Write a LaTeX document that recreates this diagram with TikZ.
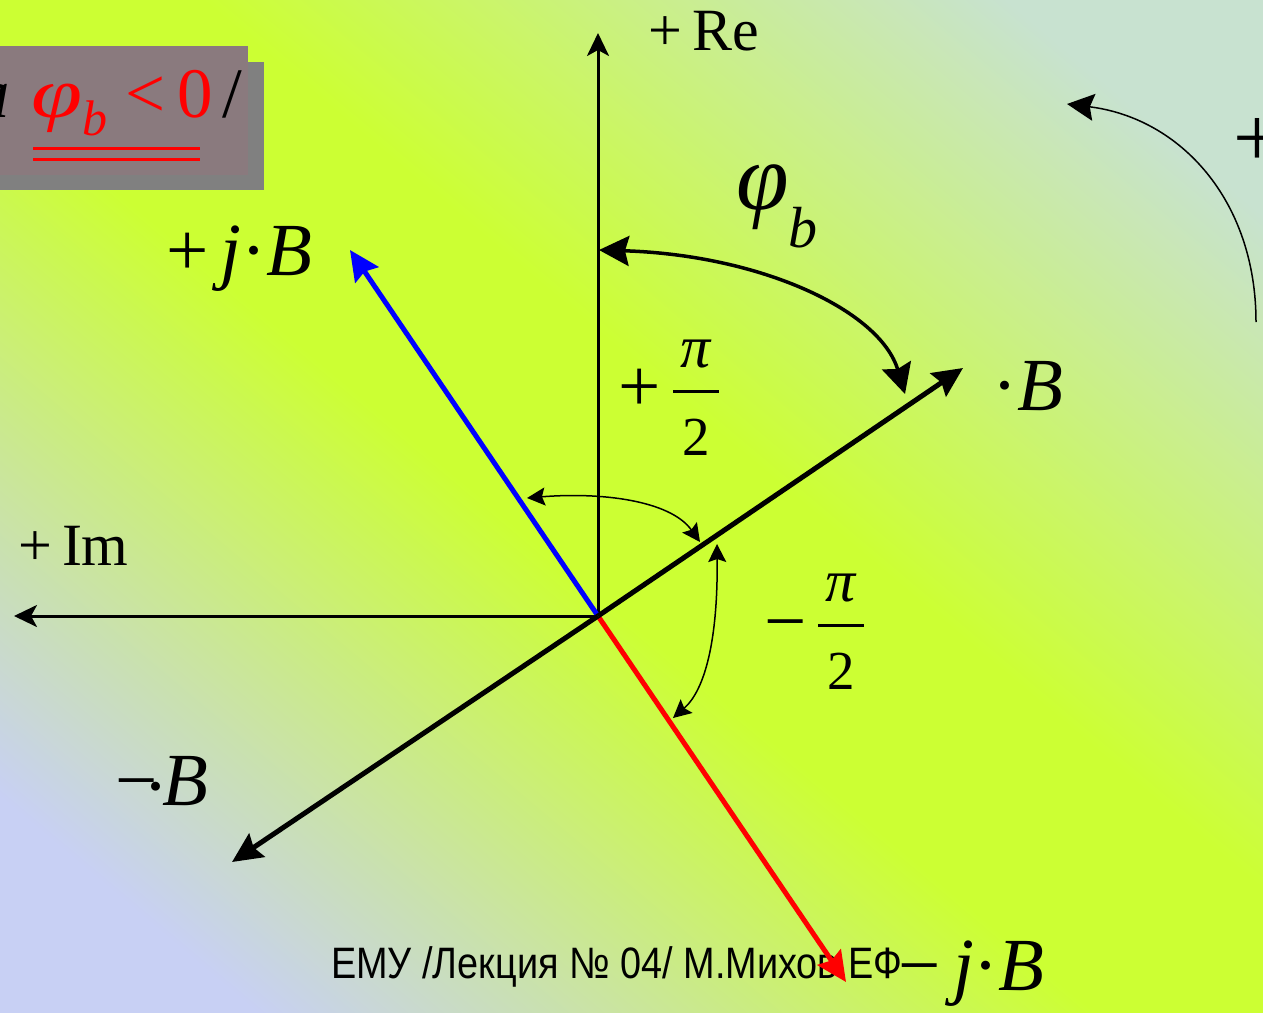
\documentclass[tikz,border=0pt]{standalone}
\usepackage{fontspec}
\setmainfont{Liberation Serif}
\newfontfamily\footfont{Liberation Sans}[FakeStretch=0.86]
\usetikzlibrary{arrows.meta}
\definecolor{bgmid}{HTML}{CCFF33}
\definecolor{bgtop}{HTML}{C8E2D0}
\definecolor{bgbot}{HTML}{C8D0F4}
\definecolor{boxback}{HTML}{808080}
\definecolor{boxfront}{HTML}{8A7A7E}
\pgfdeclareverticalshading{bgshade}{100bp}{color(0bp)=(bgbot); color(22bp)=(bgbot); color(46bp)=(bgmid); color(55bp)=(bgmid); color(78bp)=(bgtop); color(100bp)=(bgtop)}
\newcommand{\pifrac}{$\displaystyle{\mbox{\hspace{7pt}{\fontsize{60}{60}\selectfont\textit{π}}\hspace{7pt}\rule[-13pt]{0pt}{13pt}}\above 3pt\mbox{\rule{0pt}{54pt}2}}$}
\tikzset{
  lbl/.style={inner sep=0pt, anchor=base west},
  axisline/.style={line width=3pt, -{Stealth[length=23pt,width=22pt,inset=6pt]}},
  vecline/.style={line width=5pt, -{Stealth[length=30pt,width=28pt,inset=4pt]}},
  bigarc/.style={line width=3.5pt, {Stealth[length=30pt,width=30pt,inset=4pt]}-{Stealth[length=30pt,width=30pt,inset=4pt]}},
  smallarc/.style={line width=1.5pt, {Stealth[length=18pt,width=18pt,inset=3pt]}-{Stealth[length=18pt,width=18pt,inset=3pt]}},
  rotarc/.style={line width=1.5pt, -{Stealth[length=27pt,width=27pt,inset=4pt]}},
}
\begin{document}
\begin{tikzpicture}[x=1pt,y=-1pt]
\useasboundingbox (0,0) rectangle (1263,1012);
\clip (0,0) rectangle (1263,1012);
\shade[shading=bgshade, shading angle=-40] (0,0) rectangle (1263,1012);

% title box
\fill[boxback] (0,62) rectangle (264,190);
\fill[boxfront] (0,46) rectangle (248,175);
\node[inner sep=0pt, anchor=base east, font=\fontsize{71}{71}\selectfont] (ta) at (10,117) {\textit{a}};
\node[lbl, font=\fontsize{71}{71}\selectfont] (title) at (31,117)
  {{\color{red}\scalebox{1.3}[1]{\textit{φ}}\raisebox{-18pt}{\fontsize{50}{50}\selectfont\textit{b}}\hspace{18pt}<\hspace{12pt}0}\hspace{10pt}/};
\draw[red, line width=3pt] (33,148) -- (200,148);
\draw[red, line width=3pt] (33,159) -- (200,159);

% coordinates
\coordinate (O) at (598,616);
\coordinate (ReEnd) at (598,33);
\coordinate (ImEnd) at (14,616);
\coordinate (BEnd) at (963,368);
\coordinate (mBEnd) at (232,862);
\coordinate (jBEnd) at (350,250);
\coordinate (mjBEnd) at (846,982);

% footer
\node[lbl, font=\footfont\fontsize{44}{44}\selectfont] (foot) at (331,978) {ЕМУ /Лекция № 04/ М.Михов ЕФ};

% axes
\draw[axisline] (O) -- (ReEnd);
\draw[axisline] (O) -- (ImEnd);

% vectors
\draw[vecline, blue] (O) -- (jBEnd);
\draw[vecline, red] (O) -- (mjBEnd);
\draw[vecline] (O) -- (BEnd);
\draw[vecline] (O) -- (mBEnd);

% arcs
\coordinate (phiA) at (599,250);
\coordinate (phiB) at (905,394);
\draw[bigarc] (phiA) .. controls (760,255) and (880,310) .. (phiB);
\coordinate (pA) at (527,498);
\coordinate (pB) at (700,542);
\draw[smallarc] (pA) .. controls (600,492) and (670,500) .. (pB);
\coordinate (mA) at (717,544);
\coordinate (mB) at (673,718);
\draw[smallarc] (mA) .. controls (718,640) and (705,690) .. (mB);
\coordinate (rA) at (1256,322);
\coordinate (rB) at (1067,104);
\draw[rotarc] (rA) .. controls (1256,200) and (1180,118) .. (rB);

% labels
\node[lbl, font=\fontsize{60}{60}\selectfont] (re) at (648,50) {+\,Re};
\node[lbl, font=\fontsize{60}{60}\selectfont] (im) at (18,565) {+\,Im};
\node[lbl, font=\fontsize{75}{75}\selectfont] (jb) at (166,275) {+\,\textit{j}·\textit{B}};
\node[lbl, font=\fontsize{75}{75}\selectfont] (b) at (992,410) {·\textit{B}};
\node[lbl, font=\fontsize{75}{75}\selectfont] (mb) at (115,805) {−\kern-14pt\raisebox{-6pt}{·}\kern-6pt\textit{B}};
\node[lbl, font=\fontsize{75}{75}\selectfont] (mjb) at (898,990) {−\,\textit{j}·\textit{B}};
\node[lbl, font=\fontsize{95}{95}\selectfont] (phib) at (736,209) {\textit{φ}\raisebox{-38pt}{\fontsize{58}{58}\selectfont\textit{b}}};
\node[inner sep=0pt, font=\fontsize{75}{75}\selectfont] (pplus) at (640,390) {+};
\node[inner sep=0pt, font=\fontsize{55}{55}\selectfont, anchor=center] (pfrac) at (696,398) {\pifrac};
\node[inner sep=0pt, font=\fontsize{75}{75}\selectfont] (mminus) at (786,633) {−};
\node[inner sep=0pt, font=\fontsize{55}{55}\selectfont, anchor=center] (mfrac) at (841,632) {\pifrac};
\node[inner sep=0pt, font=\fontsize{85}{85}\selectfont] (rplus) at (1257,142) {+};
\end{tikzpicture}
\end{document}
